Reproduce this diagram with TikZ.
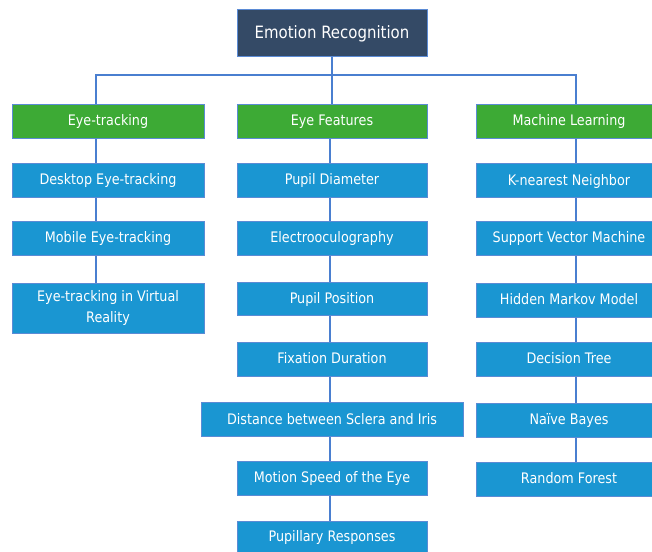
\documentclass[tikz,border=0pt]{standalone}
\usepackage{fontspec}
\setmainfont{DejaVu Sans}[FakeStretch=0.88]
\definecolor{rootfill}{HTML}{344A66}
\definecolor{greenfill}{HTML}{3DAA35}
\definecolor{bluefill}{HTML}{1A96D2}
\definecolor{edgeblue}{HTML}{5B8BD5}
\definecolor{linkblue}{HTML}{4A7FD0}
\tikzset{
  box/.style={draw=edgeblue, line width=1pt, inner sep=0pt, text=white, align=center,
    text height=12.5pt, text depth=3pt,
    font=\fontsize{14.5}{21}\selectfont},
  rootbox/.style={box, fill=rootfill, minimum width=190pt, minimum height=46pt,
    text height=14pt, text depth=2pt, font=\fontsize{17}{20}\selectfont},
  catbox/.style={box, fill=greenfill, minimum height=34pt},
  itembox/.style={box, fill=bluefill, minimum height=34pt},
  link/.style={draw=linkblue, line width=1.1pt}
}
\begin{document}
\begin{tikzpicture}[x=1pt,y=-1pt]
\useasboundingbox (0,0) rectangle (652,551);
\clip (0,0) rectangle (652,551);
% root
\node[rootbox] (root) at (332,33) {Emotion Recognition};
% categories
\node[catbox, minimum width=192pt] (et) at (108,121) {Eye-tracking};
\node[catbox, minimum width=190pt] (ef) at (332,121) {Eye Features};
\node[catbox, minimum width=186pt] (ml) at (569,121) {Machine Learning};
% left column
\node[itembox, minimum width=192pt] (l1) at (108,180) {Desktop Eye-tracking};
\node[itembox, minimum width=192pt] (l2) at (108,238) {Mobile Eye-tracking};
\node[itembox, minimum width=192pt, minimum height=50pt, text height={}, text depth={}] (l3) at (108,308) {Eye-tracking in Virtual\\Reality};
% middle column
\node[itembox, minimum width=190pt] (m1) at (332,180) {Pupil Diameter};
\node[itembox, minimum width=190pt] (m2) at (332,238) {Electrooculography};
\node[itembox, minimum width=190pt, minimum height=33pt] (m3) at (332,298.5) {Pupil Position};
\node[itembox, minimum width=190pt] (m4) at (332,359) {Fixation Duration};
\node[itembox, minimum width=262pt] (m5) at (332,419.5) {Distance between Sclera and Iris};
\node[itembox, minimum width=190pt] (m6) at (332,478) {Motion Speed of the Eye};
\node[itembox, minimum width=190pt, minimum height=32pt] (m7) at (332,537) {Pupillary Responses};
% right column
\node[itembox, minimum width=186pt] (r1) at (569,180.5) {K-nearest Neighbor};
\node[itembox, minimum width=186pt] (r2) at (569,238) {Support Vector Machine};
\node[itembox, minimum width=186pt] (r3) at (569,300) {Hidden Markov Model};
\node[itembox, minimum width=186pt] (r4) at (569,359) {Decision Tree};
\node[itembox, minimum width=186pt] (r5) at (569,420) {Naïve Bayes};
\node[itembox, minimum width=186pt] (r6) at (569,479) {Random Forest};
% connectors: root to categories
\coordinate (bus) at (332,75);
\draw[link] (root.south) -- (root.south |- ef.north);
\draw[link] ([xshift=-12pt]et.north) |- (bus);
\draw[link] ([xshift=7pt]ml.north) |- (bus);
% left column chain
\draw[link] ([xshift=-12pt]et.south) -- ([xshift=-12pt]l1.north);
\draw[link] ([xshift=-12pt]l1.south) -- ([xshift=-12pt]l2.north);
\draw[link] ([xshift=-12pt]l2.south) -- ([xshift=-12pt]l3.north);
% middle column chain
\draw[link] ([xshift=-2pt]ef.south) -- ([xshift=-2pt]m1.north);
\draw[link] ([xshift=-2pt]m1.south) -- ([xshift=-2pt]m2.north);
\draw[link] ([xshift=-2pt]m2.south) -- ([xshift=-2pt]m3.north);
\draw[link] ([xshift=-2pt]m3.south) -- ([xshift=-2pt]m4.north);
\draw[link] ([xshift=-2pt]m4.south) -- ([xshift=-2pt]m5.north);
\draw[link] ([xshift=-2pt]m5.south) -- ([xshift=-2pt]m6.north);
\draw[link] ([xshift=-2pt]m6.south) -- ([xshift=-2pt]m7.north);
% right column chain
\draw[link] ([xshift=7pt]ml.south) -- ([xshift=7pt]r1.north);
\draw[link] ([xshift=7pt]r1.south) -- ([xshift=7pt]r2.north);
\draw[link] ([xshift=7pt]r2.south) -- ([xshift=7pt]r3.north);
\draw[link] ([xshift=7pt]r3.south) -- ([xshift=7pt]r4.north);
\draw[link] ([xshift=7pt]r4.south) -- ([xshift=7pt]r5.north);
\draw[link] ([xshift=7pt]r5.south) -- ([xshift=7pt]r6.north);
\end{tikzpicture}
\end{document}
